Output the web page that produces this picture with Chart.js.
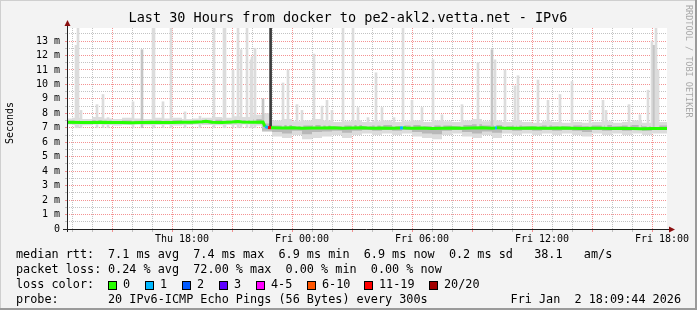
<!DOCTYPE html>
<html>
<head>
<meta charset="utf-8">
<script src="https://cdn.jsdelivr.net/npm/chart.js@4/dist/chart.umd.min.js"></script>
<style>
  html, body { margin: 0; padding: 0; background: #f3f3f3; }
</style>
</head>
<body>
<canvas id="chart" width="697" height="310"></canvas>
<script>
// hours are counted from Thu 12:00
const titleText = "Last 30 Hours from docker to pe2-akl2.vetta.net - IPv6";
const xTickHours = [6, 12, 18, 24, 30];
const xTickLabels = ["Thu 18:00", "Fri 00:00", "Fri 06:00", "Fri 12:00", "Fri 18:00"];

// smoke band (spread of the 20 pings), half-hour steps
const bandHours = [0.25,0.75,1.25,1.75,2.25,2.75,3.25,3.75,4.25,4.75,5.25,5.75,6.25,6.75,7.25,7.75,8.25,8.75,9.25,9.75,
  10.25,10.75,11.25,11.75,12.25,12.75,13.25,13.75,14.25,14.75,15.25,15.75,16.25,16.75,17.25,17.75,18.25,18.75,19.25,19.75,
  20.25,20.75,21.25,21.75,22.25,22.75,23.25,23.75,24.25,24.75,25.25,25.75,26.25,26.75,27.25,27.75,28.25,28.75,29.25,29.75,30.25];
const bandLo = [7.22,7.2,7.18,7.22,7.2,7.15,7.2,7.22,7.18,7.2,7.2,7.16,7.2,7.22,7.2,7.18,7.2,7.2,7.22,7.15,
  6.7,6.4,6.3,6.5,6.2,6.3,6.4,6.5,6.3,6.5,6.6,6.5,6.6,6.5,6.6,6.4,6.3,6.2,6.5,6.6,
  6.4,6.3,6.5,6.3,6.6,6.5,6.6,6.5,6.6,6.5,6.6,6.5,6.4,6.6,6.5,6.6,6.5,6.6,6.5,6.6,6.6];
const bandHi = [7.65,7.7,7.6,7.75,7.65,7.6,7.7,7.65,7.6,7.7,7.65,7.7,7.6,7.65,7.7,7.75,7.7,7.8,7.75,7.9,
  8.0,7.5,7.6,7.45,7.5,7.6,7.5,7.4,7.45,7.5,7.4,7.45,7.5,7.4,7.45,7.5,7.4,7.5,7.45,7.4,
  7.5,7.6,7.45,7.5,7.4,7.5,7.4,7.35,7.45,7.4,7.35,7.4,7.35,7.4,7.45,7.35,7.4,7.5,7.35,7.4,7.4];
const coreLo = [7.28,7.3,7.27,7.3,7.28,7.26,7.3,7.29,7.27,7.3,7.28,7.3,7.27,7.29,7.3,7.28,7.3,7.3,7.29,7.27,
  6.8,6.7,6.6,6.8,6.55,6.7,6.75,6.8,6.65,6.8,6.85,6.8,6.85,6.8,6.85,6.7,6.6,6.55,6.8,6.85,
  6.7,6.6,6.75,6.65,6.85,6.8,6.85,6.8,6.85,6.8,6.85,6.8,6.7,6.85,6.8,6.85,6.8,6.85,6.8,6.85,6.85];
const coreHi = [7.48,7.5,7.47,7.52,7.48,7.46,7.5,7.49,7.47,7.5,7.48,7.52,7.47,7.49,7.5,7.55,7.5,7.55,7.52,7.6,
  7.3,7.15,7.2,7.1,7.15,7.2,7.15,7.1,7.15,7.2,7.1,7.15,7.2,7.1,7.15,7.2,7.1,7.15,7.15,7.1,
  7.2,7.25,7.15,7.2,7.1,7.15,7.1,7.1,7.15,7.1,7.1,7.15,7.1,7.15,7.2,7.1,7.15,7.2,7.1,7.15,7.15];

// median rtt (ms) and loss class per point
const medianHours = [0.25,1,1.5,2,2.5,3,3.5,4,4.5,5,5.5,6,6.5,7,7.2,7.5,8,8.5,8.8,9,
  9.5,10.05,10.15,10.3,10.45,10.55,11,11.5,12,12.5,13,13.5,14,14.5,15,15.5,16,16.5,16.9,17.05,
  17.2,17.5,18,18.5,19,19.5,20,20.5,21,21.5,21.65,21.75,22,22.5,23,23.5,24,24.5,25,25.5,
  26,26.5,27,27.5,28,28.5,29,29.5,30,30.25];
const medianMs = [7.38,7.37,7.36,7.38,7.36,7.37,7.35,7.37,7.38,7.36,7.37,7.38,7.38,7.42,7.45,7.38,7.37,7.4,7.44,7.4,
  7.38,7.39,7.08,7.02,7.0,7.0,6.98,7.0,6.97,6.99,6.98,7.0,6.97,6.98,7.0,6.96,6.98,6.97,6.98,7.0,
  6.98,6.97,6.98,6.95,6.97,6.99,6.96,6.98,7.0,6.97,6.98,7.0,6.98,6.96,6.97,6.98,6.96,6.97,6.98,6.97,
  6.95,6.96,6.97,6.95,6.96,6.95,6.94,6.95,6.95,6.95];
const medianLoss = [0,0,0,0,0,0,0,0,0,0,0,0,0,0,0,0,0,0,0,0,
  0,0,0,1,6,0,0,0,0,0,0,0,0,0,0,0,0,0,0,1,
  0,0,0,0,0,0,0,0,0,0,0,1,0,0,0,0,0,0,0,0,
  0,0,0,0,0,0,0,0,0,0];

// rtt spikes: hour, top (ms), shade 0 light / 1 mid / 2 dark
const spikeHours = [0.7,0.8,0.95,1.75,2.05,2.3,3.55,4.0,4.55,4.6,5.05,5.45,6.15,6.9,7.6,8.1,8.15,8.55,8.8,8.95,
  9.25,9.45,9.5,9.65,10.05,10.43,11.05,11.3,11.75,12.0,12.6,13.0,13.25,13.5,14.05,14.55,14.8,15.3,15.7,16.0,
  16.6,17.05,17.5,18.0,18.55,19.0,20.0,20.8,21.5,21.65,22.15,22.65,22.8,23.8,24.3,24.9,25.5,26.4,27.05,27.2,
  28.35,28.9,29.3,29.5,29.6,29.7,29.8];
const spikeTops = [12.7,13.9,8.2,8.6,9.3,7.7,8.8,12.4,13.9,13.9,8.8,13.9,8.1,7.8,13.9,13.9,13.9,11.0,13.9,12.4,
  13.9,11.7,11.9,12.5,9.0,13.9,10.1,11.0,8.6,8.2,12.1,8.5,8.9,8.2,13.9,13.9,8.4,7.7,10.8,8.4,
  7.7,13.9,8.9,8.4,11.7,7.9,8.6,11.5,12.4,11.7,11.0,9.9,10.6,10.3,8.9,9.3,10.2,8.2,8.9,8.2,
  8.6,7.9,9.6,13.0,12.7,13.9,11.0];
const spikeShade = [0,0,0,0,0,0,0,1,0,0,0,0,0,0,0,0,0,0,0,0,
  0,0,0,0,1,2,0,0,0,0,0,0,0,0,0,0,0,0,0,0,
  0,0,0,0,0,0,0,0,1,0,0,0,0,0,0,0,0,0,0,0,
  0,0,0,0,1,0,0];
const spikeBase = 7.0;

const lossLabels = ["0", "1", "2", "3", "4-5", "6-10", "11-19", "20/20"];
const lossColors = ["#26ff00", "#00b8ff", "#0059ff", "#5e00ff", "#ff00ff", "#ff5500", "#ff0000", "#a10000"];
const shadeColors = ["#dcdcdc", "#c4c4c4", "#3c3c3c"];

const rttStats = "7.1 ms avg  7.4 ms max  6.9 ms min  6.9 ms now  0.2 ms sd   38.1   am/s";
const lossStats = "0.24 % avg  72.00 % max  0.00 % min  0.00 % now";
const probeText = "20 IPv6-ICMP Echo Pings (56 Bytes) every 300s";
const stampText = "Fri Jan  2 18:09:44 2026";

const mono = '"DejaVu Sans Mono", monospace';
const pts = (xs, ys) => xs.map((x, i) => ({ x: x, y: ys[i] }));
const clear = 'rgba(0,0,0,0)';
const gridMinor = 'rgba(175,175,175,0.75)';
const gridMajor = 'rgba(240,110,110,0.75)';

// grid every hour / every half ms
function hourTicks(scale) {
  const t = [];
  for (let h = 1; h <= 30; h++) t.push({ value: h });
  scale.ticks = t;
}
function msTicks(scale) {
  const t = [];
  for (let k = 0; k <= 27; k++) t.push({ value: k / 2 });
  scale.ticks = t;
}

const rrdFrame = {
  id: 'rrdFrame',
  beforeDraw(chart) {
    const c = chart.ctx, a = chart.chartArea;
    c.save();
    c.fillStyle = '#f3f3f3';
    c.fillRect(0, 0, chart.width, chart.height);
    c.fillStyle = '#ffffff';
    c.fillRect(a.left, a.top, a.right - a.left, a.bottom - a.top);
    c.restore();
  },
  afterDraw(chart) {
    const c = chart.ctx, a = chart.chartArea;
    c.save();
    // axes + arrows
    c.strokeStyle = '#222';
    c.lineWidth = 1;
    c.beginPath();
    c.moveTo(a.left + 0.5, a.bottom + 3);
    c.lineTo(a.left + 0.5, a.top - 5);
    c.moveTo(a.left - 4, a.bottom + 0.5);
    c.lineTo(a.right + 3, a.bottom + 0.5);
    c.stroke();
    c.fillStyle = '#8b1010';
    c.beginPath();
    c.moveTo(a.left + 0.5, a.top - 8);
    c.lineTo(a.left - 2.5, a.top - 2);
    c.lineTo(a.left + 3.5, a.top - 2);
    c.fill();
    c.beginPath();
    c.moveTo(a.right + 8, a.bottom + 0.5);
    c.lineTo(a.right + 2, a.bottom - 2.5);
    c.lineTo(a.right + 2, a.bottom + 3.5);
    c.fill();

    // title
    c.fillStyle = '#000';
    c.textBaseline = 'middle';
    c.textAlign = 'center';
    c.font = '13.5px ' + mono;
    c.fillText(titleText, 348, 18);

    // y axis title
    c.font = '10px ' + mono;
    c.save();
    c.translate(10, 123);
    c.rotate(-Math.PI / 2);
    c.fillText('Seconds', 0, 0);
    c.restore();

    // watermark
    c.save();
    c.fillStyle = '#a8a8a8';
    c.font = '8.5px ' + mono;
    c.textAlign = 'left';
    c.translate(688, 5);
    c.rotate(Math.PI / 2);
    c.fillText('RRDTOOL / TOBI OETIKER', 0, 0);
    c.restore();

    // legend block
    c.textAlign = 'left';
    c.font = '11.8px ' + mono;
    const rows = [255, 270, 285, 300];
    c.fillText('median rtt:', 16, rows[0]);
    c.fillText(rttStats, 108, rows[0]);
    c.fillText('packet loss:', 16, rows[1]);
    c.fillText(lossStats, 108, rows[1]);
    c.fillText('loss color:', 16, rows[2]);
    const boxX = [108, 145, 182, 219, 256, 307, 364, 429];
    lossLabels.forEach((lab, i) => {
      c.fillStyle = lossColors[i];
      c.fillRect(boxX[i], rows[2] - 4, 9, 9);
      c.strokeStyle = '#000';
      c.strokeRect(boxX[i] + 0.5, rows[2] - 3.5, 8, 8);
      c.fillStyle = '#000';
      c.fillText(lab, boxX[i] + 15, rows[2]);
    });
    c.fillText('probe:', 16, rows[3]);
    c.fillText(probeText, 108, rows[3]);
    c.textAlign = 'right';
    c.fillText(stampText, 681, rows[3]);

    // 3d frame
    c.fillStyle = '#cfcfcf';
    c.fillRect(0, 0, chart.width, 1);
    c.fillRect(0, 0, 1, chart.height);
    c.fillStyle = '#9a9a9a';
    c.fillRect(chart.width - 2, 0, 2, chart.height);
    c.fillRect(0, chart.height - 2, chart.width, 2);
    c.restore();
  }
};

new Chart(document.getElementById('chart'), {
  type: 'bar',
  data: {
    datasets: [
      { type: 'line', data: pts(bandHours, bandLo), stepped: 'middle', borderWidth: 0, pointRadius: 0, fill: false, order: 3 },
      { type: 'line', data: pts(bandHours, bandHi), stepped: 'middle', borderWidth: 0, pointRadius: 0, fill: '-1', backgroundColor: '#dcdcdc', order: 3 },
      { type: 'line', data: pts(bandHours, coreLo), stepped: 'middle', borderWidth: 0, pointRadius: 0, fill: false, order: 2 },
      { type: 'line', data: pts(bandHours, coreHi), stepped: 'middle', borderWidth: 0, pointRadius: 0, fill: '-1', backgroundColor: '#b8b8b8', order: 2 },
      {
        type: 'bar',
        data: spikeHours.map((h, i) => ({ x: h, y: [spikeBase, spikeTops[i]] })),
        backgroundColor: spikeShade.map(s => shadeColors[s]),
        barThickness: 2,
        order: 1
      },
      {
        type: 'line',
        data: pts(medianHours, medianMs),
        borderColor: lossColors[0],
        borderWidth: 3,
        pointRadius: 0,
        fill: false,
        segment: { borderColor: ctx => lossColors[medianLoss[ctx.p1DataIndex]] },
        order: 0
      }
    ]
  },
  options: {
    responsive: false,
    animation: false,
    devicePixelRatio: 1,
    layout: { padding: { left: 0, right: 30, top: 28, bottom: 0 } },
    plugins: { legend: { display: false }, tooltip: { enabled: false }, title: { display: false } },
    scales: {
      x: {
        type: 'linear',
        min: 0.25,
        max: 30.25,
        offset: false,
        afterBuildTicks: hourTicks,
        afterFit: s => { s.height = 81; },
        border: { display: false, dash: [1, 1] },
        grid: {
          color: ctx => {
            if (!ctx.tick) return clear;
            return ctx.tick.value % 3 === 0 ? gridMajor : gridMinor;
          },
          tickLength: 3
        },
        ticks: {
          autoSkip: false,
          maxRotation: 0,
          padding: 1,
          color: '#000',
          font: { family: 'DejaVu Sans Mono', size: 10 },
          callback: v => {
            const k = xTickHours.indexOf(v);
            return k >= 0 ? xTickLabels[k] : '';
          }
        }
      },
      y: {
        min: 0,
        max: 13.9,
        afterBuildTicks: msTicks,
        afterFit: s => { s.width = 67; },
        border: { display: false, dash: [1, 1] },
        grid: {
          color: ctx => {
            if (!ctx.tick || ctx.tick.value === 0) return clear;
            return Number.isInteger(ctx.tick.value) ? gridMajor : gridMinor;
          },
          tickLength: 2
        },
        ticks: {
          autoSkip: false,
          padding: 5,
          color: '#000',
          font: { family: 'DejaVu Sans Mono', size: 10 },
          callback: v => Number.isInteger(v) ? (v === 0 ? '0' : v + ' m') : ''
        }
      }
    }
  },
  plugins: [rrdFrame]
});
</script>
</body>
</html>
